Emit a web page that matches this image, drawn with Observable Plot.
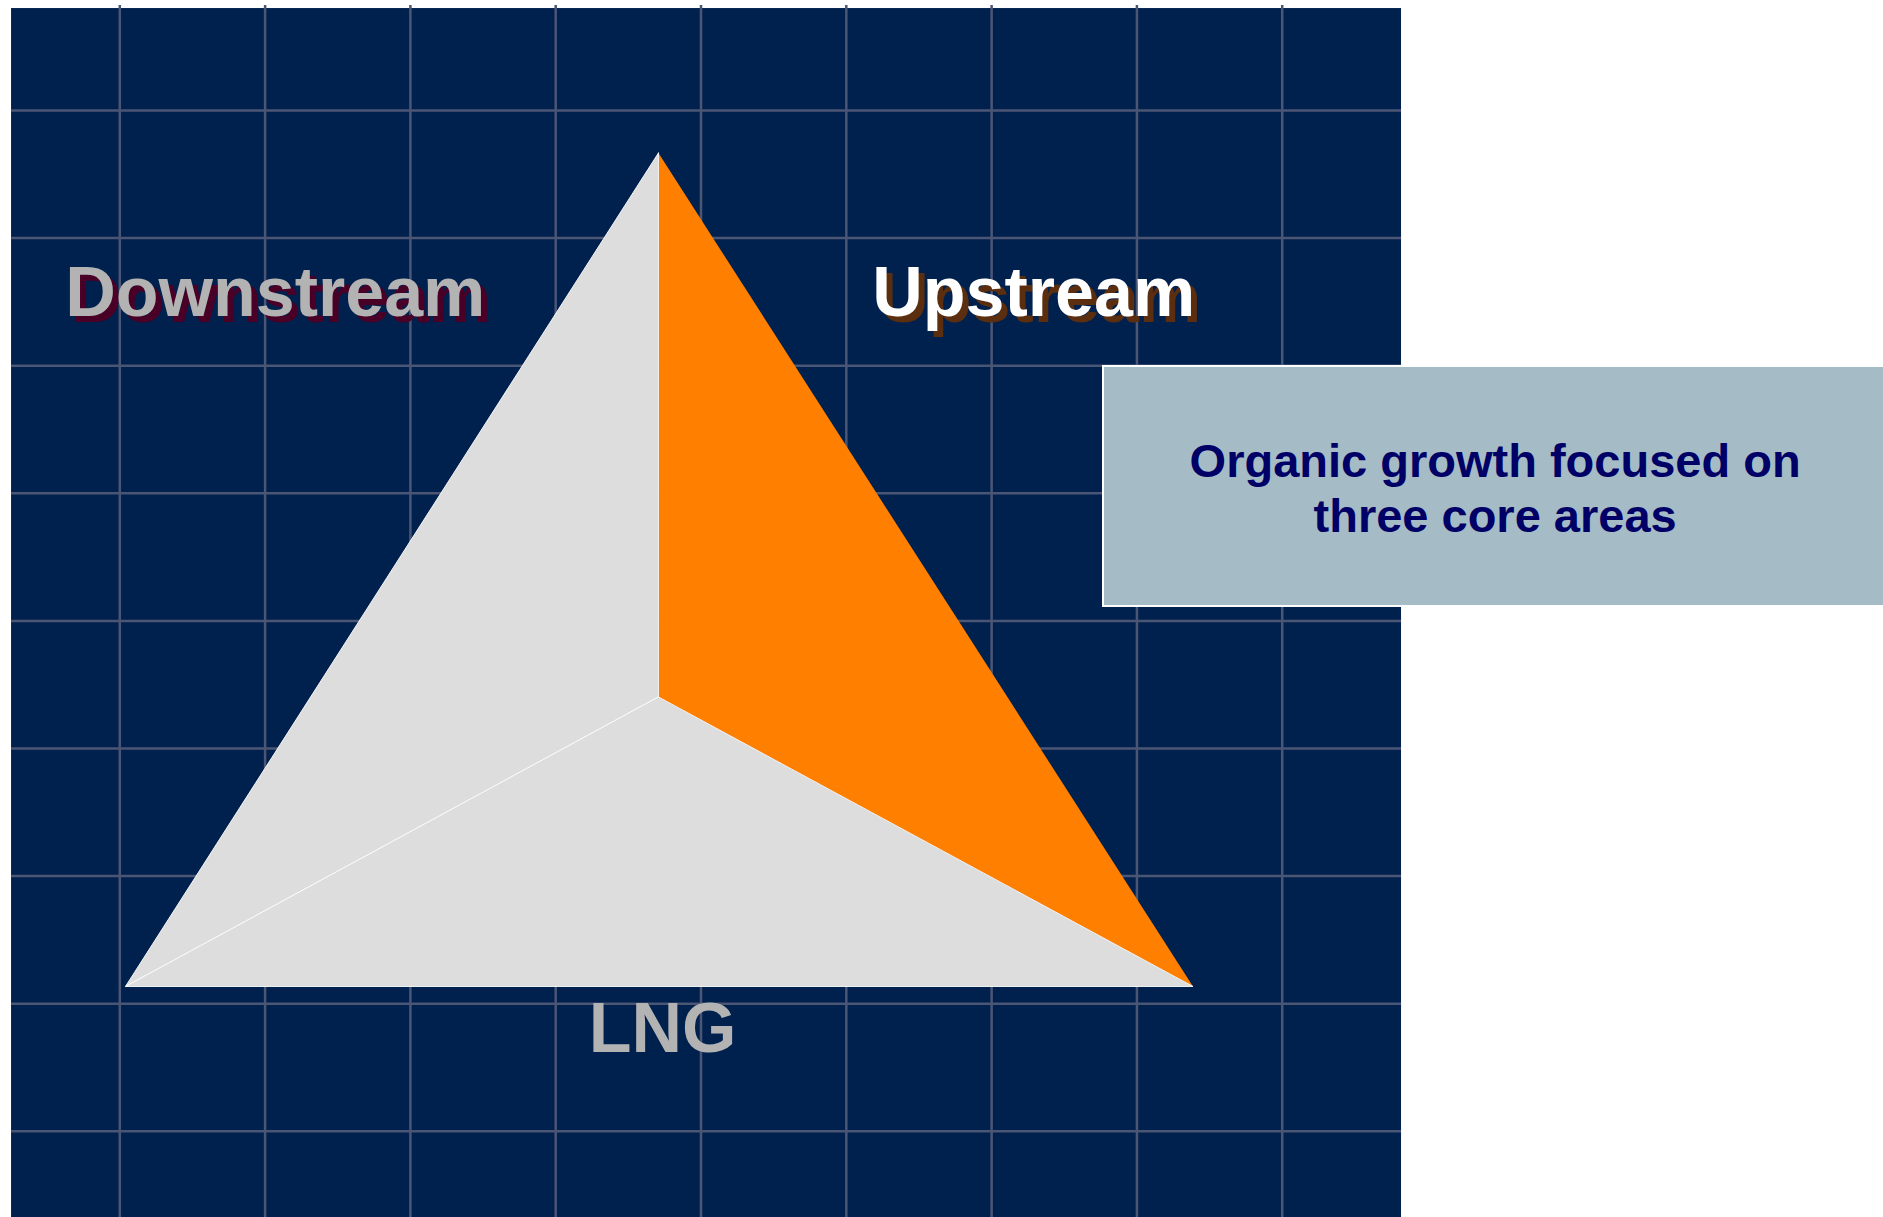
<!DOCTYPE html>
<html>
<head>
<meta charset="utf-8">
<script src="https://cdn.jsdelivr.net/npm/d3@7"></script>
<script src="https://cdn.jsdelivr.net/npm/@observablehq/plot@0.6"></script>
<style>
  html, body { margin: 0; padding: 0; background: #ffffff; }
  #chart svg { display: block; }
</style>
</head>
<body>
<div id="chart"></div>
<script>
// Grid tick values (diagram units)
const gridX = [1, 2, 3, 4, 5, 6, 7, 8, 9];
const gridY = [1, 2, 3, 4, 5, 6, 7, 8, 9];

// Panel extent (diagram units)
const panelX = [0.255, 9.821];
const panelY = [0.0, 9.799];

// Triangle vertices (diagram units)
const apex = [4.707, 8.667];
const bottomLeft = [1.039, 2.135];
const bottomRight = [8.386, 2.135];
const center = [4.707, 4.404];

// Segments
const faceNames = ["Downstream", "Upstream", "LNG"];
const faceCorners = [
  [apex, center, bottomLeft, apex],
  [apex, bottomRight, center, apex],
  [center, bottomLeft, bottomRight, center]
];

// Segment labels and their anchor points
const labelNames = ["Downstream", "Upstream", "LNG"];
const labelX = [2.07, 7.29, 4.735];
const labelY = [7.386, 7.386, 1.618];

// Call-out box
const calloutText = "Organic growth focused on\nthree core areas";
const calloutX = [7.770, 13.3];
const calloutY = [5.113, 6.994];
const calloutTextX = 10.465;
const calloutTextY = 5.693;

// Build tables
const faces = faceNames.flatMap((name, i) =>
  faceCorners[i].map(([x, y]) => ({face: name, x, y}))
);
const labels = labelNames.map((name, i) => ({name, x: labelX[i], y: labelY[i]}));
const panel = [{x1: panelX[0], x2: panelX[1], y1: panelY[0], y2: panelY[1]}];
const callout = [{x1: calloutX[0], x2: calloutX[1], y1: calloutY[0], y2: calloutY[1]}];

const FONT = "'Liberation Sans', Arial, Helvetica, sans-serif";
const navy = "#00214D";
const gridColor = "#4B5574";

const plot = Plot.plot({
  width: 1883,
  height: 1217,
  margin: 0,
  style: {background: "transparent", fontFamily: FONT},
  x: {domain: [0.179, 13.138], axis: null},
  y: {domain: [0.3245, 9.862], axis: null},
  color: {domain: faceNames, range: ["#DDDDDD", "#FF7F00", "#DDDDDD"]},
  marks: [
    Plot.rect(panel, {x1: "x1", x2: "x2", y1: "y1", y2: "y2", fill: navy}),
    Plot.ruleX(gridX, {y1: 0, y2: 9.823, stroke: gridColor, strokeWidth: 2.5}),
    Plot.ruleY(gridY, {x1: panelX[0], x2: panelX[1], stroke: gridColor, strokeWidth: 2.5}),
    Plot.line(faces.filter(d => d.face === "Upstream"), {x: "x", y: "y", z: "face", fill: "face", stroke: "none"}),
    Plot.line(faces.filter(d => d.face !== "Upstream"), {x: "x", y: "y", z: "face", fill: "face", stroke: "#ffffff", strokeWidth: 1, strokeOpacity: 0.9}),
    // label shadows
    Plot.text(labels.filter(d => d.name !== "LNG"), {
      x: "x", y: "y", text: "name", dx: 6, dy: 6,
      lineAnchor: "bottom", textAnchor: "middle",
      fontSize: 70, fontWeight: "bold", fontFamily: FONT,
      fill: d => d.name === "Downstream" ? "#4A0026" : "#5A2E0E"
    }),
    Plot.text(labels, {
      x: "x", y: "y", text: "name",
      lineAnchor: "bottom", textAnchor: "middle",
      fontSize: 70, fontWeight: "bold", fontFamily: FONT,
      fill: d => d.name === "Upstream" ? "#FFFFFF" : "#B3B3B3"
    }),
    // call-out box
    Plot.rect(callout, {x1: "x1", x2: "x2", y1: "y1", y2: "y2", fill: "#A5BCC6", stroke: "#FFFFFF", strokeWidth: 2}),
    Plot.text([calloutText], {
      x: calloutTextX, y: calloutTextY, text: d => d,
      lineAnchor: "bottom", textAnchor: "middle", lineHeight: 1.17,
      fontSize: 47, fontWeight: "bold", fontFamily: FONT, fill: "#000066"
    })
  ]
});

document.getElementById("chart").appendChild(plot);
</script>
</body>
</html>
